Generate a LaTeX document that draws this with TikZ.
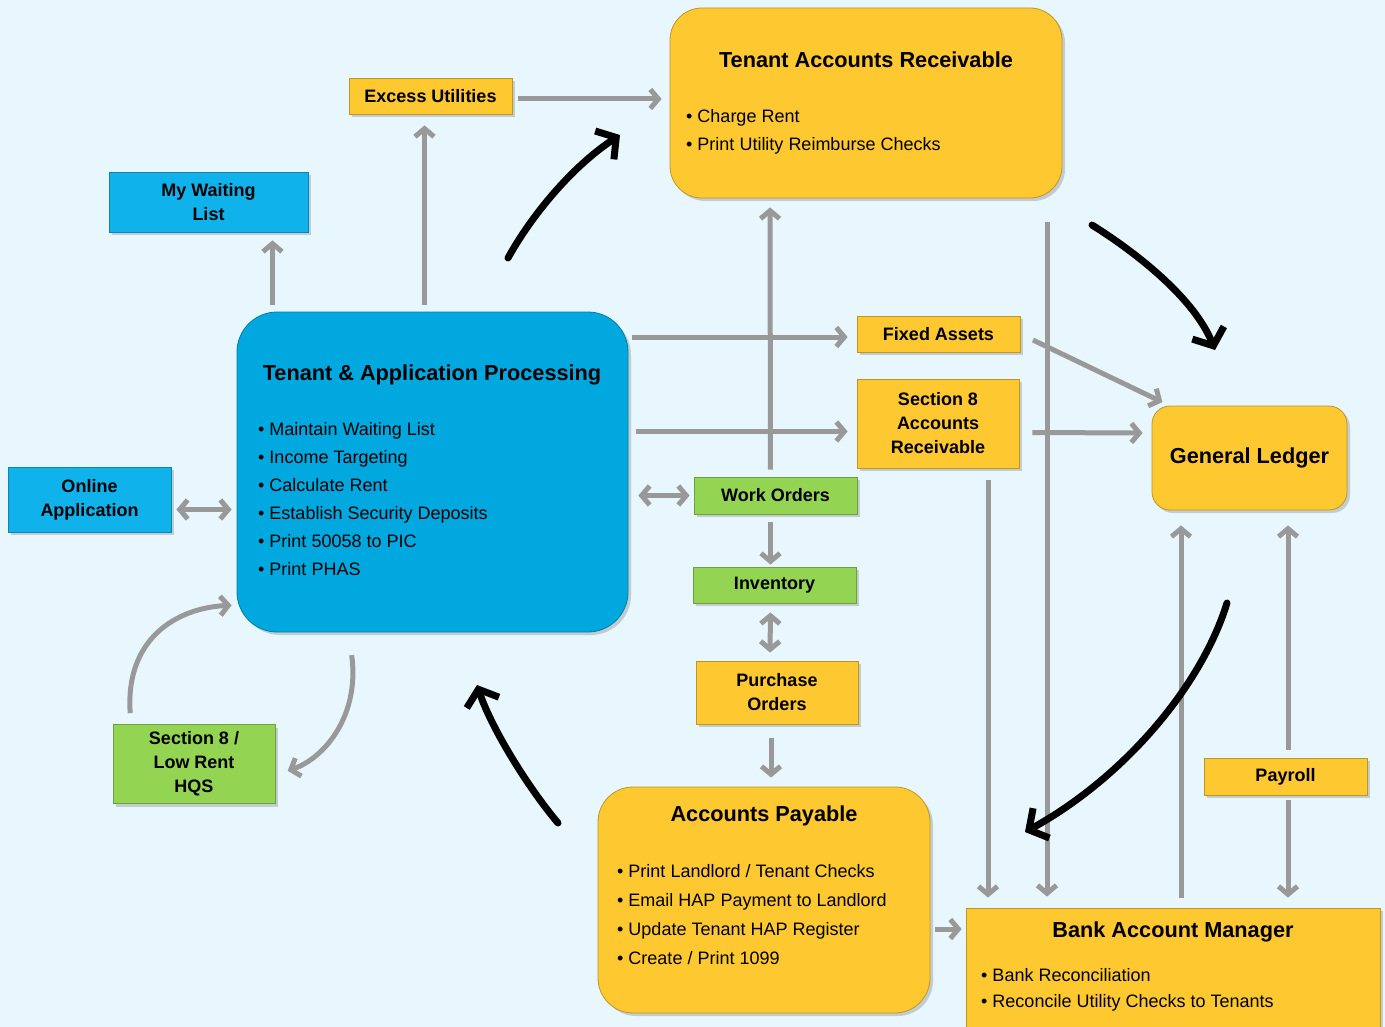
\documentclass[tikz,border=0pt]{standalone}
\usepackage{fontspec}
\setmainfont{Liberation Sans}
\usetikzlibrary{arrows.meta,shadows}

\definecolor{bgblue}{HTML}{E8F6FD}
\definecolor{tapblue}{HTML}{00A8E0}
\definecolor{boxblue}{HTML}{10B2EC}
\definecolor{boxyellow}{HTML}{FDC830}
\definecolor{boxgreen}{HTML}{94D453}
\definecolor{arrowgray}{HTML}{999999}

\tikzset{
  box/.style={draw=#1!75!black, line width=0.8pt, fill=#1, inner sep=0pt,
    drop shadow={shadow xshift=3pt, shadow yshift=-3pt, opacity=0.35},
    font=\bfseries\fontsize{18}{24}\selectfont, align=center},
  bigbox/.style={box=#1, rounded corners=40pt},
  title/.style={anchor=base, inner sep=0pt, font=\bfseries\fontsize{21.7}{25}\selectfont},
  item/.style={anchor=base west, inner sep=0pt, font=\fontsize{18}{22}\selectfont},
  garr/.style={draw=arrowgray, line width=5pt, ->, shorten <=6pt, shorten >=8pt},
  garr2/.style={garr, <->},
  barr/.style={draw=black, line width=7pt, line cap=round,
    -{Straight Barb[length=14pt, width=34pt]}}
}

\begin{document}
\begin{tikzpicture}[x=1pt, y=-1pt, >={Straight Barb[length=8pt, width=19pt]}]
  \useasboundingbox (0,0) rectangle (1385,1027);
  \fill[bgblue] (0,0) rectangle (1385,1027);

  % large boxes
  \node[bigbox=tapblue, minimum width=391pt, minimum height=320pt] (tap) at (432.5,472) {};
  \node[title] (taptitle) at (432,380) {Tenant \& Application Processing};
  \node[item] (tap1) at (258,435) {\textbullet\ Maintain Waiting List};
  \node[item] (tap2) at (258,463) {\textbullet\ Income Targeting};
  \node[item] (tap3) at (258,491) {\textbullet\ Calculate Rent};
  \node[item] (tap4) at (258,519) {\textbullet\ Establish Security Deposits};
  \node[item] (tap5) at (258,547) {\textbullet\ Print 50058 to PIC};
  \node[item] (tap6) at (258,575) {\textbullet\ Print PHAS};

  \node[bigbox=boxyellow, rounded corners=32pt, minimum width=392pt, minimum height=190pt] (tar) at (866,103) {};
  \node[title] (tartitle) at (866,68) {Tenant Accounts Receivable};
  \node[item] (tar1) at (686,123) {\textbullet\ Charge Rent};
  \node[item] (tar2) at (686,151) {\textbullet\ Print Utility Reimburse Checks};

  \node[bigbox=boxyellow, rounded corners=35pt, minimum width=332pt, minimum height=226pt] (ap) at (764,900) {};
  \node[title] (aptitle) at (764,821) {Accounts Payable};
  \node[item] (ap1) at (617,877) {\textbullet\ Print Landlord / Tenant Checks};
  \node[item] (ap2) at (617,906) {\textbullet\ Email HAP Payment to Landlord};
  \node[item] (ap3) at (617,935) {\textbullet\ Update Tenant HAP Register};
  \node[item] (ap4) at (617,964) {\textbullet\ Create / Print 1099};

  \node[box=boxyellow, minimum width=414pt, minimum height=134pt] (bam) at (1173,975) {};
  \node[title] (bamtitle) at (1173,937) {Bank Account Manager};
  \node[item] (bam1) at (981,981) {\textbullet\ Bank Reconciliation};
  \node[item] (bam2) at (981,1007) {\textbullet\ Reconcile Utility Checks to Tenants};

  \node[box=boxyellow, rounded corners=18pt, minimum width=195pt, minimum height=104pt,
    font=\bfseries\fontsize{21.7}{25}\selectfont] (gl) at (1249.5,458) {General Ledger};

  % small boxes
  \node[box=boxyellow, minimum width=163pt, minimum height=36pt] (eu) at (430.5,96) {Excess Utilities};
  \node[box=boxblue, minimum width=199pt, minimum height=60pt] (mwl) at (208.5,202) {My Waiting\\List};
  \node[box=boxblue, minimum width=163pt, minimum height=65pt] (oa) at (89.5,499.5) {Online\\Application};
  \node[box=boxgreen, minimum width=162pt, minimum height=79pt] (hqs) at (194,764) {Section 8 /\\Low Rent\\HQS};
  \node[box=boxyellow, minimum width=163pt, minimum height=36pt] (fa) at (938.5,334) {Fixed Assets};
  \node[box=boxyellow, minimum width=162pt, minimum height=89pt] (sar) at (938,423.5) {Section 8\\Accounts\\Receivable};
  \node[box=boxgreen, minimum width=163pt, minimum height=37pt] (wo) at (775.5,495.5) {Work Orders};
  \node[box=boxgreen, minimum width=163pt, minimum height=36pt] (inv) at (774.5,585) {Inventory};
  \node[box=boxyellow, minimum width=162pt, minimum height=63pt] (po) at (777,692.5) {Purchase\\Orders};
  \node[box=boxyellow, minimum width=163pt, minimum height=37pt] (pay) at (1285.5,776.5) {Payroll};

  % gray connectors
  \draw[garr, shorten <=7pt] ([xshift=-160pt]tap.north) -- ([xshift=64pt]mwl.south);
  \draw[garr, shorten <=7pt, shorten >=11pt] ([xshift=-8pt]tap.north) -- ([xshift=-6pt]eu.south);
  \draw[garr] ([yshift=-3pt]eu.east) -- ([yshift=-3pt]eu.east -| tar.west);
  \draw[garr, shorten <=4pt, shorten >=9pt] ([yshift=-3pt]tap.east |- fa) -- ([yshift=-3pt]fa.west);
  \draw[garr, shorten <=8pt, shorten >=9pt] ([yshift=-8pt]tap.east |- sar) -- ([yshift=-8pt]sar.west);
  \draw[garr2, shorten <=10pt, shorten >=4pt] (tap.east |- wo) -- (wo.west);
  \draw[garr, shorten <=7pt, shorten >=9pt] ([xshift=-5pt]wo.north) -- ([xshift=-96pt]tar.south);
  \draw[garr, shorten <=8pt, shorten >=2pt] ([xshift=-5pt]wo.south) -- ([xshift=-4pt]inv.north);
  \draw[garr2, shorten <=9pt, shorten >=8pt] ([xshift=-4pt]inv.south) -- ([xshift=-7pt]po.north);
  \draw[garr, shorten <=14pt, shorten >=9pt] ([xshift=-6pt]po.south) -- ([xshift=7pt]ap.north);
  \draw[garr2, shorten <=5pt, shorten >=5pt] ([yshift=-10pt]oa.east) -- ([yshift=-10pt]oa.east -| tap.west);
  \draw[garr, shorten <=11pt, shorten >=5pt] ([xshift=-63pt]hqs.north) .. controls (125,640) and (175,608) .. ([yshift=-133pt]tap.west);
  \draw[garr, shorten <=23pt, shorten >=13pt] ([xshift=-84pt]tap.south) .. controls (360,715) and (325,758) .. ([yshift=-11pt]hqs.east);
  \draw[garr, shorten <=24pt, shorten >=11pt] ([xshift=181pt]tar.south) -- ([xshift=-126pt]bam.north);
  \draw[garr, shorten <=14pt, shorten >=8pt] (fa.east) -- ([xshift=18pt]gl.north west);
  \draw[garr, shorten <=13pt, shorten >=9pt] ([yshift=-9pt]sar.east) -- ([yshift=25pt]gl.west);
  \draw[garr, shorten <=12pt, shorten >=10pt] ([xshift=50pt]sar.south) -- ([xshift=-185pt]bam.north);
  \draw[garr, shorten <=10pt, shorten >=15pt] ([xshift=8pt]bam.north) -- ([xshift=-68.5pt]gl.south);
  \draw[garr, shorten <=8pt, shorten >=15pt] ([xshift=2.5pt]pay.north) -- ([xshift=38.5pt]gl.south);
  \draw[garr, shorten <=5pt, shorten >=10pt] ([xshift=2.5pt]pay.south) -- ([xshift=115pt]bam.north);
  \draw[garr, shorten <=5pt, shorten >=4pt] ([yshift=-29pt]ap.east) -- ([yshift=46pt]bam.west);

  % black flow arrows
  \coordinate (k1s) at (508,258);
  \coordinate (k1e) at (620,135);
  \coordinate (k2s) at (558,823);
  \coordinate (k2e) at (477,685);
  \coordinate (k3s) at (1092,225);
  \coordinate (k3e) at (1215,350);
  \coordinate (k4s) at (1227,603);
  \coordinate (k4e) at (1025,832);
  \draw[barr] (k1s) .. controls (530,218) and (570,168) .. (k1e);
  \draw[barr] (k2s) .. controls (530,790) and (492,730) .. (k2e);
  \draw[barr] (k3s) .. controls (1140,255) and (1195,300) .. (k3e);
  \draw[barr] (k4s) .. controls (1200,690) and (1120,780) .. (k4e);
\end{tikzpicture}
\end{document}
